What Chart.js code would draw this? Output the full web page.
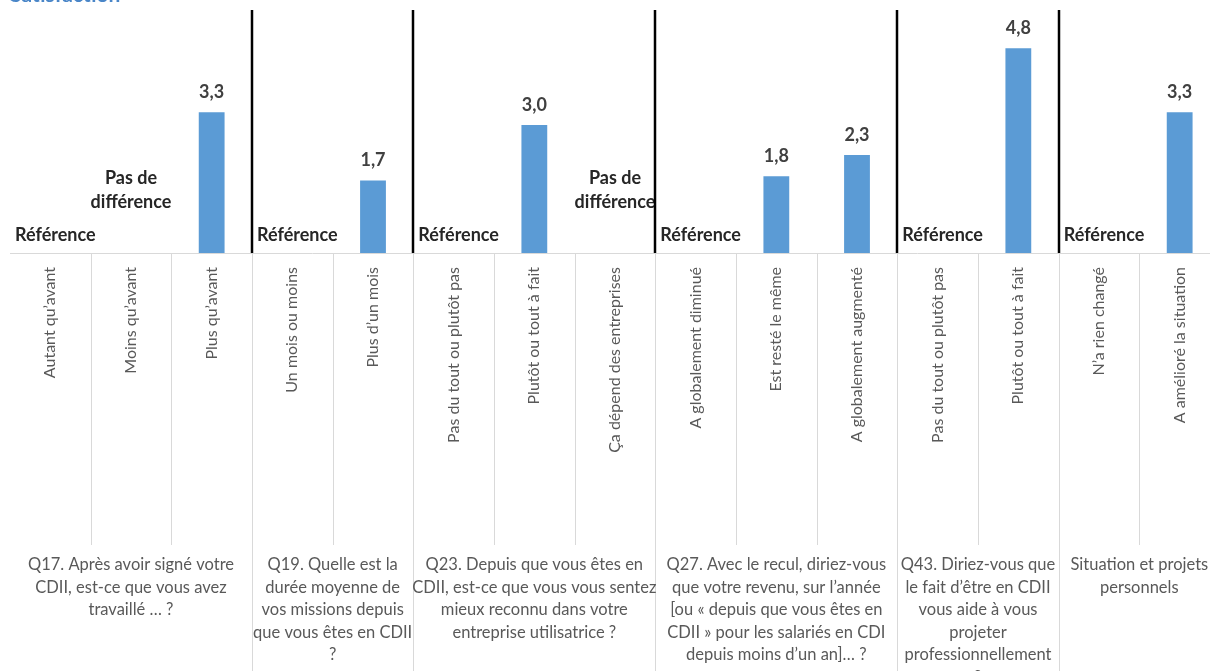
<!DOCTYPE html>
<html>
<head>
<meta charset="utf-8">
<script src="https://cdn.jsdelivr.net/npm/chart.js@4"></script>
<style>
    html, body { margin: 0; padding: 0; background: #fff; overflow: hidden; }
    #wrap { position: relative; width: 1230px; height: 671px; }
    #title { position: absolute; left: 10px; top: -17px; font: bold 21px Lato, sans-serif; color: #4a86c8; line-height: 1; }
</style>
</head>
<body>
<div id="wrap">
    <canvas id="chart" width="1230" height="671"></canvas>
    <div id="title">Satisfaction</div>
</div>
<script>
// categories, one per column
const categories = [
    'Autant qu\u2019avant', 'Moins qu\u2019avant', 'Plus qu\u2019avant',
    'Un mois ou moins', 'Plus d\u2019un mois',
    'Pas du tout ou plutôt pas', 'Plutôt ou tout à fait', 'Ça dépend des entreprises',
    'A globalement diminué', 'Est resté le même', 'A globalement augmenté',
    'Pas du tout ou plutôt pas', 'Plutôt ou tout à fait',
    'N\u2019a rien changé', 'A amélioré la situation'
];

const values = [null, null, 3.3, null, 1.7, null, 3.0, null, null, 1.8, 2.3, null, 4.8, null, 3.3];

// text shown instead of a bar
const notes = [
    'Référence', 'Pas de\ndifférence', null,
    'Référence', null,
    'Référence', null, 'Pas de\ndifférence',
    'Référence', null, null,
    'Référence', null,
    'Référence', null
];

const groupSizes = [3, 2, 3, 3, 2, 2];
const groupLabels = [
    ['Q17. Après avoir signé votre', 'CDII, est-ce que vous avez', 'travaillé … ?'],
    ['Q19. Quelle est la', 'durée moyenne de', 'vos missions depuis', 'que vous êtes en CDII', '?'],
    ['Q23. Depuis que vous êtes en', 'CDII, est-ce que vous vous sentez', 'mieux reconnu dans votre', 'entreprise utilisatrice ?'],
    ['Q27. Avec le recul, diriez-vous', 'que votre revenu, sur l\u2019année', '[ou « depuis que vous êtes en', 'CDII » pour les salariés en CDI', 'depuis moins d\u2019un an]… ?'],
    ['Q43. Diriez-vous que', 'le fait d\u2019être en CDII', 'vous aide à vous', 'projeter', 'professionnellement', '?'],
    ['Situation et projets', 'personnels']
];

const textColor = '#595959';

const decorPlugin = {
    id: 'decor',
    afterDatasetsDraw(chart) {
        const ctx = chart.ctx;
        const x = chart.scales.x;
        const y = chart.scales.y;
        const base = y.getPixelForValue(0);
        ctx.save();
        ctx.textAlign = 'center';
        ctx.textBaseline = 'middle';

        // value labels
        ctx.font = 'bold 18px Lato, sans-serif';
        ctx.fillStyle = '#404040';
        values.forEach((v, i) => {
            if (v === null) return;
            const px = x.getPixelForValue(i);
            const py = y.getPixelForValue(v);
            ctx.fillText(v.toFixed(1).replace('.', ','), px, py - 20);
        });

        // reference / no difference notes
        ctx.fillStyle = '#262626';
        notes.forEach((n, i) => {
            if (!n) return;
            const lines = n.split('\n');
            const multi = lines.length > 1;
            const px = x.getPixelForValue(i) + (multi ? 0 : 5);
            const bottom = multi ? base - 51 : base - 18;
            lines.forEach((l, j) => {
                ctx.fillText(l, px, bottom - (lines.length - 1 - j) * 24);
            });
        });
        ctx.restore();
    },
    afterDraw(chart) {
        const ctx = chart.ctx;
        const x = chart.scales.x;
        const area = chart.chartArea;
        const step = (x.right - x.left) / categories.length;
        const h = chart.height;
        ctx.save();

        // axis line
        ctx.strokeStyle = '#d9d9d9';
        ctx.lineWidth = 1;
        ctx.beginPath();
        ctx.moveTo(x.left, area.bottom + 0.5);
        ctx.lineTo(x.right, area.bottom + 0.5);
        ctx.stroke();

        const groupEdges = [];
        let acc = 0;
        groupSizes.forEach(s => { acc += s; groupEdges.push(acc); });

        // gray lines under the axis
        for (let k = 1; k < categories.length; k++) {
            const px = Math.round(x.left + k * step) + 0.5;
            const isGroup = groupEdges.includes(k);
            ctx.beginPath();
            ctx.moveTo(px, area.bottom);
            ctx.lineTo(px, isGroup ? h : 545);
            ctx.stroke();
        }

        // black separators between groups
        ctx.strokeStyle = '#000';
        ctx.lineWidth = 2.5;
        groupEdges.slice(0, -1).forEach(k => {
            const px = Math.round(x.left + k * step);
            ctx.beginPath();
            ctx.moveTo(px, area.top);
            ctx.lineTo(px, area.bottom);
            ctx.stroke();
        });

        // group labels
        ctx.fillStyle = textColor;
        ctx.font = '16.5px Lato, sans-serif';
        ctx.textAlign = 'center';
        ctx.textBaseline = 'middle';
        let start = 0;
        groupSizes.forEach((s, g) => {
            const cx = x.left + (start + s / 2) * step;
            groupLabels[g].forEach((l, j) => {
                ctx.fillText(l, cx, 565 + j * 22.5);
            });
            start += s;
        });
        ctx.restore();
    }
};

new Chart(document.getElementById('chart'), {
    type: 'bar',
    data: {
        labels: categories,
        datasets: [{
            data: values,
            backgroundColor: '#5b9bd5',
            barPercentage: 0.32,
            categoryPercentage: 1
        }]
    },
    options: {
        responsive: false,
        animation: false,
        layout: { padding: { left: 10, right: 10, top: 10, bottom: 0 } },
        plugins: {
            legend: { display: false },
            tooltip: { enabled: false }
        },
        scales: {
            x: {
                grid: { display: false },
                border: { display: false },
                ticks: {
                    autoSkip: false,
                    minRotation: 90,
                    maxRotation: 90,
                    padding: 6,
                    color: textColor,
                    font: { family: 'Lato', size: 16 }
                },
                afterFit(scale) { scale.height = 418; }
            },
            y: {
                display: false,
                min: 0,
                max: 5.7
            }
        }
    },
    plugins: [decorPlugin]
});
</script>
</body>
</html>
